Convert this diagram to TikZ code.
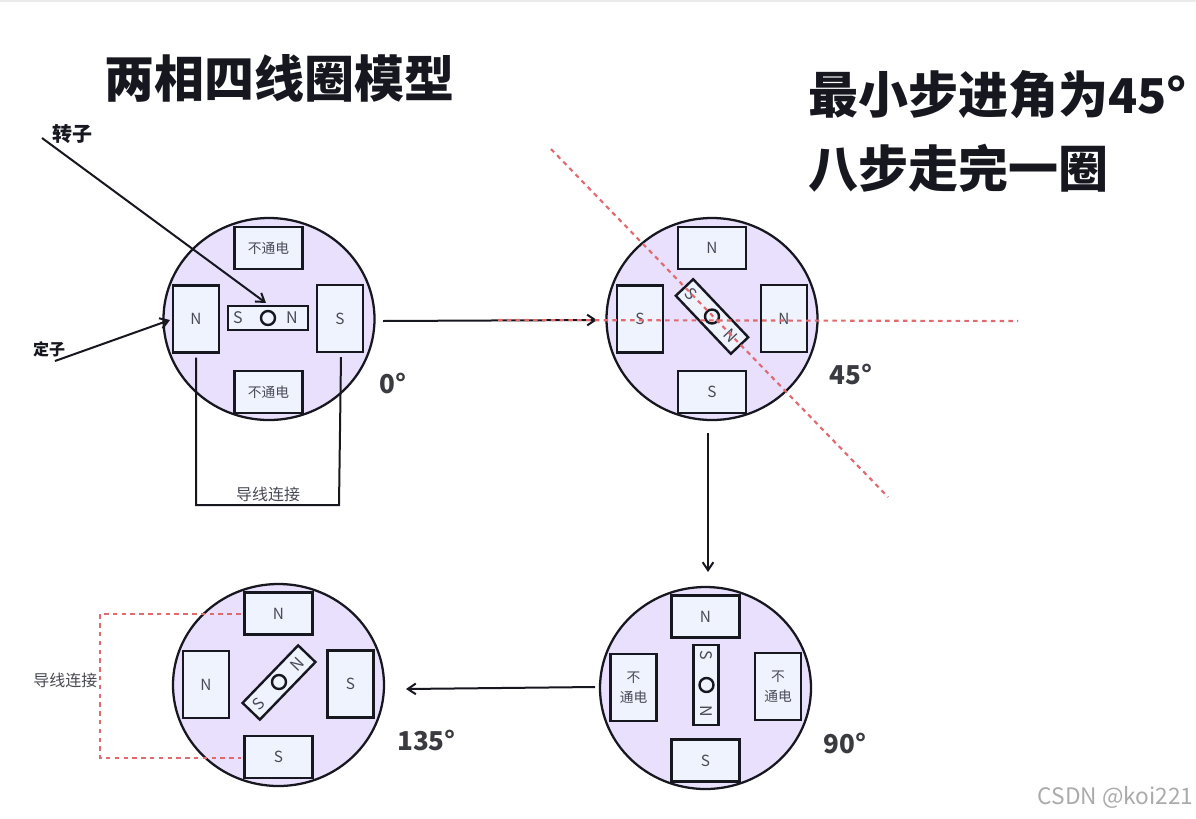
\documentclass[tikz,border=0pt]{standalone}
\usepackage{fontspec}
\setmainfont{Noto Sans CJK SC}
\usetikzlibrary{arrows.meta,calc,shapes.geometric}
\newcommand{\lowr}[1]{\raisebox{-1.3pt}{#1}}
\definecolor{disc}{HTML}{E9E0FD}
\definecolor{pole}{HTML}{EEF3FD}
\definecolor{ink}{HTML}{17171F}
\definecolor{soft}{HTML}{4A4A55}
\definecolor{redline}{HTML}{E06A6E}
\tikzset{
  px/.style={x=0.75pt,y=-0.75pt},
  discnode/.style={ellipse,draw=ink,fill=disc,line width=1.7pt,minimum width=158.25pt,minimum height=151.5pt,inner sep=0pt,outer sep=0pt},
  polenode/.style={rectangle,draw=ink,fill=pole,line width=1.8pt,inner sep=0pt,outer sep=0pt,text=soft,align=center,font=\fontsize{10.3}{15}\selectfont},
  wide/.style={polenode,minimum width=51pt,minimum height=31.5pt},
  tall/.style={polenode,minimum width=34.5pt,minimum height=50.5pt},
  bigletter/.style={font=\fontsize{11.5}{15}\selectfont},
  rotorbar/.style={rectangle,draw=ink,fill=pole,line width=1.8pt,minimum width=60pt,minimum height=18pt,inner sep=0pt,outer sep=0pt},
  axle/.style={circle,draw=ink,line width=1.8pt,minimum size=10.5pt,inner sep=0pt},
  rotorlabel/.style={text=soft,inner sep=0pt,font=\fontsize{12}{12}\selectfont},
  conn/.style={draw=ink,line width=1.5pt},
  flow/.style={conn,-{Straight Barb[length=6pt,width=8pt,line width=1.5pt]}},
  reddash/.style={draw=redline,line width=1.6pt,dash pattern=on 3.4pt off 3.2pt},
  title/.style={font=\fontsize{37.5}{40}\bfseries\selectfont,text=ink,anchor=west,inner sep=0pt},
  angle/.style={font=\fontsize{19.5}{22}\bfseries\selectfont,text=ink!85,inner sep=0pt},
  note/.style={font=\fontsize{12}{14}\selectfont,text=ink,inner sep=0pt},
}
\begin{document}
\begin{tikzpicture}[px]
\useasboundingbox (0,0) rectangle (1196,818);
\fill[white] (0,0) rectangle (1196,818);
\draw[black!8,line width=0.8pt] (0,1) -- (1196,1);

% ---- 0 deg
\node[discnode] (d0) at (269,319) {};
\node[wide] (p0t) at (268.5,248) {\lowr{不通电}};
\node[wide] (p0b) at (268.5,392) {\lowr{不通电}};
\node[tall,bigletter] (p0l) at (196,319) {\lowr{N}};
\node[tall,bigletter] (p0r) at (340,318.5) {\lowr{S}};
\node[rotorbar] (r0) at (268,318) {};
\node[axle] (a0) at (268,318) {};
\node[rotorlabel] at ($(r0.center)!0.75!(r0.west)$) {S};
\node[rotorlabel] at ($(r0.center)!0.6!(r0.east)$) {N};

% ---- 45 deg
\node[discnode] (d45) at (712,319) {};
\node[wide,bigletter] (p45t) at (712,248) {\lowr{N}};
\node[wide,bigletter] (p45b) at (712,392) {\lowr{S}};
\node[tall,bigletter] (p45l) at (640,319) {\lowr{S}};
\node[tall,bigletter] (p45r) at (784,318.5) {\lowr{N}};
\node[rotorbar,rotate=-46.5] (r45) at (712,316.5) {};
\node[axle] (a45) at (712,316.5) {};
\node[rotorlabel,rotate=-46.5] at ($(r45.center)!0.77!(r45.west)$) {S};
\node[rotorlabel,rotate=-46.5] at ($(r45.center)!0.67!(r45.east)$) {N};

% ---- 90 deg
\node[discnode] (d90) at (705.5,688) {};
\node[wide,bigletter] (p90t) at (705.5,616.5) {\lowr{N}};
\node[wide,bigletter] (p90b) at (705.5,760.5) {\lowr{S}};
\node[tall] (p90l) at (633.5,687.5) {\lowr{不}\\\lowr{通电}};
\node[tall] (p90r) at (778,686.5) {\lowr{不}\\\lowr{通电}};
\node[rotorbar,rotate=-90,minimum height=19pt] (r90) at (706,685) {};
\node[axle] (a90) at (706.5,685) {};
\node[rotorlabel,rotate=-90] at ($(r90.center)!0.75!(r90.west)$) {S};
\node[rotorlabel,rotate=-90] at ($(r90.center)!0.65!(r90.east)$) {N};

% ---- 135 deg
\node[discnode] (d135) at (278.5,685) {};
\node[wide,bigletter] (p135t) at (278.5,613.5) {\lowr{N}};
\node[wide,bigletter] (p135b) at (278.5,757) {\lowr{S}};
\node[tall,bigletter] (p135l) at (206,684.5) {\lowr{N}};
\node[tall,bigletter] (p135r) at (350.5,684) {\lowr{S}};
\node[rotorbar,rotate=46] (r135) at (279,682.5) {};
\node[axle] (a135) at (279,682) {};
\node[rotorlabel,rotate=46] at ($(r135.center)!0.75!(r135.west)$) {S};
\node[rotorlabel,rotate=46] at ($(r135.center)!0.65!(r135.east)$) {N};

% ---- titles
\node[title] (t1) at (104.5,78) {两相四线圈模型};
\node[title] (t2) at (808,95) {最小步进角为{\fontsize{36}{40}\bfseries\selectfont 45°}};
\node[title] (t3) at (808,168) {八步走完一圈};

% ---- angle labels
\node[angle] (l0) at (393,383) {0°};
\node[angle] (l45) at (851,374) {45°};
\node[angle] (l90) at (845,743) {90°};
\node[angle] (l135) at (426.5,740) {135°};

% ---- callouts
\node[note,font=\fontsize{15}{16}\bfseries\selectfont] (rotor) at (72,134) {转子};
\node[note,font=\fontsize{12}{14}\bfseries\selectfont] (stator) at (49,349) {定子};
\coordinate (rotorstart) at (42,138);
\coordinate (rotorend) at (266,303);
\coordinate (statorstart) at (55,361);
\coordinate (statorend) at (170,320);
\draw[flow] (rotorstart) -- (rotorend);
\draw[flow] (statorstart) -- (statorend);

% ---- step arrows
\coordinate (s1a) at (383,321);
\coordinate (s1b) at (597,320);
\coordinate (s2a) at (708,433);
\coordinate (s2b) at (708,572);
\coordinate (s3a) at (595,687);
\coordinate (s3b) at (406,689);
\draw[flow] (s1a) -- (s1b);
\draw[flow] (s2a) -- (s2b);
\draw[flow] (s3a) -- (s3b);

% ---- red guide lines
\coordinate (g1a) at (551,149);
\coordinate (g1b) at (888,497);
\coordinate (g2a) at (498,320);
\coordinate (g2b) at (1018,321);
\draw[reddash] (g1a) -- (g1b);
\draw[reddash] (g2a) -- (g2b);

% ---- wire 0 deg
\node[note,font=\fontsize{12}{14}\selectfont,text=soft] (w0) at (268,494) {导线连接};
\coordinate (w0a) at ($(p0l.south)+(0,5)$);
\coordinate (w0b) at ($(p0r.south)+(1,5)$);
\draw[conn] (w0a) -- (196,505) -- (339,505) -- (w0b);

% ---- wire 135 deg
\node[note,font=\fontsize{12}{14}\selectfont,text=soft] (w135) at (65.5,680) {导线连接};
\coordinate (w1a) at ($(p135t.west)+(-4,0.5)$);
\coordinate (w1b) at ($(p135b.west)+(-4,1)$);
\draw[reddash] (w1a) -- (100,614) -- (100,758) -- (w1b);

% ---- watermark
\node[text=black!33,inner sep=0pt,font=\fontsize{17}{18}\selectfont] (wm) at (1115.5,797) {CSDN @koi221};
\end{tikzpicture}
\end{document}
